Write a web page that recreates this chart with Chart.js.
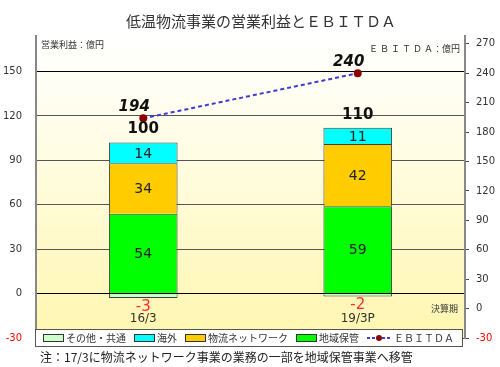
<!DOCTYPE html>
<html>
<head>
<meta charset="utf-8">
<script src="https://cdn.jsdelivr.net/npm/chart.js@4.4.1/dist/chart.umd.min.js"></script>
<style>
    body { margin: 0; background: #ffffff; }
    #wrap { width: 500px; height: 367px; position: relative; }
</style>
</head>
<body>
<div id="wrap"><canvas id="chart"></canvas></div>
<script>
(function () {
    var categories = ['16/3', '19/3P'];
    var regional = [54, 59];   // 地域保管
    var network = [34, 42];    // 物流ネットワーク
    var overseas = [14, 11];   // 海外
    var other = [-3, -2];      // その他・共通
    var totals = [100, 110];
    var ebitda = [194, 240];
    var leftTicks = [-30, 0, 30, 60, 90, 120, 150];
    var rightTicks = [-30, 0, 30, 60, 90, 120, 150, 180, 210, 240, 270];

    var JP = '"Noto Sans CJK JP", sans-serif';
    var NUM = '"DejaVu Sans", sans-serif';

    var legendItems = [
        { label: 'その他・共通', fill: '#ccffcc' },
        { label: '海外', fill: '#00ffff' },
        { label: '物流ネットワーク', fill: '#ffcc00' },
        { label: '地域保管', fill: '#00ff00' },
        { label: 'ＥＢＩＴＤＡ', line: true }
    ];

    function text(ctx, str, x, y, font, color, align, baseline) {
        ctx.font = font;
        ctx.fillStyle = color;
        ctx.textAlign = align || 'center';
        ctx.textBaseline = baseline || 'middle';
        ctx.fillText(str, x, y);
    }

    var background = {
        id: 'background',
        beforeDraw: function (chart) {
            var a = chart.chartArea;
            var ctx = chart.ctx;
            var g = ctx.createLinearGradient(0, a.top, 0, a.bottom);
            g.addColorStop(0, '#ffffff');
            g.addColorStop(0.35, '#fffde6');
            g.addColorStop(1, '#fff6b0');
            ctx.save();
            ctx.fillStyle = g;
            ctx.fillRect(a.left, a.top, a.right - a.left, a.bottom - a.top);
            ctx.restore();
        }
    };

    var labels = {
        id: 'labels',
        afterDatasetsDraw: function (chart) {
            var ctx = chart.ctx;
            var a = chart.chartArea;
            ctx.save();

            [0, 1, 2].forEach(function (di) {
                var ds = chart.data.datasets[di];
                chart.getDatasetMeta(di).data.forEach(function (el, i) {
                    text(ctx, String(ds.data[i]), el.x, (el.y + el.base) / 2 + 1,
                        '14px ' + NUM, '#222222');
                });
            });

            chart.getDatasetMeta(3).data.forEach(function (el, i) {
                text(ctx, String(other[i]), el.x, el.y + 9, '15px ' + NUM, '#ff2a2a');
                text(ctx, categories[i], el.x, a.bottom - 19, '12px ' + NUM, '#333333');
            });

            chart.getDatasetMeta(2).data.forEach(function (el, i) {
                text(ctx, String(totals[i]), el.x, el.y - 13, 'bold 15px ' + NUM, '#111111');
            });

            chart.getDatasetMeta(4).data.forEach(function (el, i) {
                text(ctx, String(ebitda[i]), el.x - 9, el.y - 11, 'italic bold 15px ' + NUM, '#111111');
            });

            ctx.restore();
        },
        afterDraw: function (chart) {
            var ctx = chart.ctx;
            var a = chart.chartArea;
            ctx.save();

            text(ctx, '低温物流事業の営業利益とＥＢＩＴＤＡ', 261, 21, '15px ' + JP, '#333333');
            text(ctx, '営業利益：億円', 41, 45, '9px ' + JP, '#333333', 'left');
            text(ctx, 'Ｅ Ｂ Ｉ Ｔ Ｄ Ａ：億円', a.right - 5, 49, '9px ' + JP, '#333333', 'right');
            text(ctx, '決算期', a.right - 7, chart.scales.y1.getPixelForValue(0), '9px ' + JP, '#333333', 'right');
            text(ctx, '注：17/3に物流ネットワーク事業の業務の一部を地域保管事業へ移管',
                40, 357, '12px ' + JP, '#222222', 'left');

            // legend box laid over the bottom of the plot
            var top = 329, h = 17;
            ctx.fillStyle = '#ffffff';
            ctx.fillRect(35, top, 427, h);
            ctx.strokeStyle = '#555555';
            ctx.lineWidth = 1;
            ctx.strokeRect(35.5, top + 0.5, 427, h);

            var x = 43;
            var cy = top + h / 2 + 0.5;
            ctx.font = '10px ' + JP;
            legendItems.forEach(function (item) {
                if (item.line) {
                    ctx.strokeStyle = '#3d3dd6';
                    ctx.lineWidth = 2;
                    ctx.setLineDash([3, 2]);
                    ctx.beginPath();
                    ctx.moveTo(x, cy);
                    ctx.lineTo(x + 24, cy);
                    ctx.stroke();
                    ctx.setLineDash([]);
                    ctx.fillStyle = '#8b0000';
                    ctx.beginPath();
                    ctx.arc(x + 12, cy, 3, 0, Math.PI * 2);
                    ctx.fill();
                    x += 27;
                } else {
                    ctx.fillStyle = item.fill;
                    ctx.fillRect(x, cy - 3.5, 20, 7);
                    ctx.strokeStyle = '#333333';
                    ctx.lineWidth = 1;
                    ctx.strokeRect(x + 0.5, cy - 3.5, 20, 7);
                    x += 23;
                }
                text(ctx, item.label, x, cy, '10px ' + JP, '#333333', 'left');
                x += ctx.measureText(item.label).width + 8;
            });

            ctx.restore();
        }
    };

    function barSet(label, data, color) {
        return {
            type: 'bar',
            label: label,
            data: data,
            backgroundColor: color,
            borderColor: '#404040',
            borderWidth: 1,
            yAxisID: 'y',
            stack: 'op',
            order: 1,
            barPercentage: 0.32,
            categoryPercentage: 1
        };
    }

    new Chart(document.getElementById('chart'), {
        data: {
            labels: categories,
            datasets: [
                barSet('地域保管', regional, '#00ff00'),
                barSet('物流ネットワーク', network, '#ffcc00'),
                barSet('海外', overseas, '#00ffff'),
                barSet('その他・共通', other, '#ccffcc'),
                {
                    type: 'line',
                    label: 'ＥＢＩＴＤＡ',
                    data: ebitda,
                    yAxisID: 'y1',
                    order: 0,
                    borderColor: '#3d3dd6',
                    borderWidth: 2,
                    borderDash: [4, 3],
                    pointRadius: 3,
                    pointBackgroundColor: '#8b0000',
                    pointBorderColor: '#8b0000',
                    fill: false
                }
            ]
        },
        options: {
            responsive: true,
            maintainAspectRatio: false,
            animation: false,
            layout: {
                padding: { top: 36, bottom: 29, left: 0, right: 0 }
            },
            plugins: {
                legend: { display: false },
                tooltip: { enabled: false }
            },
            scales: {
                x: {
                    display: false,
                    stacked: true
                },
                y: {
                    position: 'left',
                    stacked: true,
                    min: -30,
                    max: 174,
                    afterBuildTicks: function (scale) {
                        scale.ticks = leftTicks.map(function (v) { return { value: v }; });
                    },
                    afterFit: function (scale) {
                        scale.width = 36;
                    },
                    border: { display: true, color: '#888888', width: 2 },
                    grid: {
                        drawTicks: false,
                        color: function (c) {
                            var v = c.tick && c.tick.value;
                            return (v === 0 || v === 150) ? '#000000' : '#555555';
                        }
                    },
                    ticks: {
                        padding: 14,
                        font: { size: 10, family: NUM },
                        color: function (c) {
                            return c.tick.value < 0 ? '#ff0000' : '#333333';
                        }
                    }
                },
                y1: {
                    position: 'right',
                    min: -30,
                    max: 278,
                    afterBuildTicks: function (scale) {
                        scale.ticks = rightTicks.map(function (v) { return { value: v }; });
                    },
                    afterFit: function (scale) {
                        scale.width = 35;
                    },
                    border: { display: true, color: '#888888', width: 2 },
                    grid: {
                        drawOnChartArea: false,
                        drawTicks: true,
                        tickLength: 4,
                        color: '#444444'
                    },
                    ticks: {
                        padding: 7,
                        font: { size: 10, family: NUM },
                        color: function (c) {
                            return c.tick.value < 0 ? '#ff0000' : '#333333';
                        }
                    }
                }
            }
        },
        plugins: [background, labels]
    });
})();
</script>
</body>
</html>
